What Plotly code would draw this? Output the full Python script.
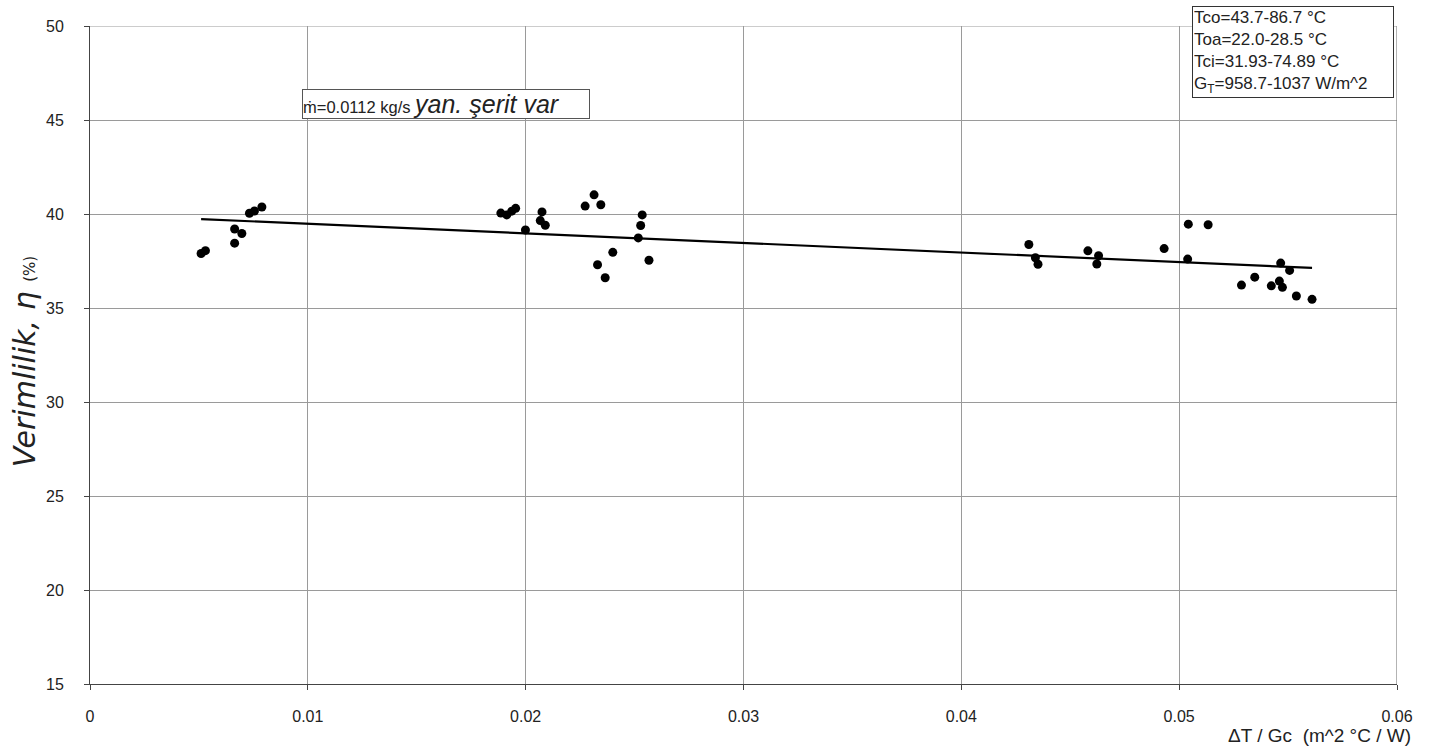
import plotly.graph_objects as go

# Measured points: ΔT/Gc (m^2 °C / W) vs efficiency (%)
x_vals = [0.0051, 0.0053, 0.00664, 0.00664, 0.00697, 0.00732, 0.00755, 0.00789,
          0.01886, 0.01913, 0.01936, 0.01954, 0.01999, 0.02075, 0.02067, 0.0209,
          0.02273, 0.02314, 0.02345, 0.0240, 0.0233, 0.02365,
          0.02535, 0.02528, 0.02517, 0.02566,
          0.0431, 0.0434, 0.04352, 0.04581, 0.0463, 0.04622, 0.04931,
          0.05042, 0.05133, 0.05039, 0.05286, 0.05347, 0.05423, 0.0546, 0.05474,
          0.05466, 0.05507, 0.05538, 0.0561]
y_vals = [37.9, 38.05, 38.45, 39.2, 38.96, 40.04, 40.16, 40.37,
          40.05, 39.95, 40.15, 40.3, 39.15, 40.11, 39.65, 39.4,
          40.42, 41.02, 40.49, 37.96, 37.3, 36.61,
          39.95, 39.39, 38.73, 37.54,
          38.38, 37.67, 37.33, 38.04, 37.78, 37.34, 38.16,
          39.46, 39.43, 37.6, 36.22, 36.64, 36.18, 36.43, 36.1,
          37.39, 37.0, 35.64, 35.46]

# Linear trend line end points
trend_x = [0.0051, 0.0561]
trend_y = [39.73, 37.13]

x_ticks = [0, 0.01, 0.02, 0.03, 0.04, 0.05, 0.06]
x_tick_labels = ["0", "0.01", "0.02", "0.03", "0.04", "0.05", "0.06"]
y_ticks = [15, 20, 25, 30, 35, 40, 45, 50]

info_lines = ["Tco=43.7-86.7 °C", "Toa=22.0-28.5 °C", "Tci=31.93-74.89 °C",
              "G<sub>T</sub>=958.7-1037 W/m^2"]

FONT = "Liberation Sans, Arial, sans-serif"

fig = go.Figure()
fig.add_trace(go.Scatter(x=trend_x, y=trend_y, mode="lines",
                         line=dict(color="black", width=2.2),
                         showlegend=False, hoverinfo="skip"))
fig.add_trace(go.Scatter(x=x_vals, y=y_vals, mode="markers",
                         marker=dict(color="black", size=9),
                         showlegend=False))

grid = "#9a9a9a"
fig.update_xaxes(range=[0, 0.06], tickvals=x_ticks, ticktext=x_tick_labels,
                 showgrid=True, gridcolor=grid, gridwidth=1,
                 showline=True, linecolor="#444", linewidth=1,
                 ticks="outside", ticklen=5, tickcolor="#444",
                 ticklabelstandoff=13, zeroline=False,
                 tickfont=dict(family=FONT, size=16, color="#222"))
fig.update_yaxes(range=[15, 50], tickvals=y_ticks,
                 showgrid=True, gridcolor=grid, gridwidth=1,
                 showline=True, linecolor="#444", linewidth=1,
                 ticks="outside", ticklen=5, tickcolor="#444",
                 ticklabelstandoff=17, zeroline=False,
                 tickfont=dict(family=FONT, size=16, color="#222"))

# right / top borders
fig.add_shape(type="line", xref="x", yref="paper", x0=0.06, x1=0.06, y0=0, y1=1,
              line=dict(color="#666", width=1))
fig.add_shape(type="line", xref="paper", yref="y", x0=0, x1=1, y0=50, y1=50,
              line=dict(color=grid, width=1))

# info box top right
fig.add_annotation(xref="x", yref="paper", x=0.0506, y=1.03, xanchor="left", yanchor="top",
                   text="<br>".join(info_lines), align="left", showarrow=False,
                   width=198, bgcolor="white", bordercolor="#333", borderwidth=1,
                   borderpad=1, font=dict(family=FONT, size=17, color="#222"))

# flow rate box
fig.add_annotation(xref="x", yref="y", x=0.00975, y=45.85, xanchor="left", yanchor="middle",
                   text="ṁ=0.0112 kg/s <span style='font-size:25px;font-style:italic'>yan. şerit var</span>",
                   align="left", showarrow=False, width=286,
                   bgcolor="white", bordercolor="#555", borderwidth=1, borderpad=0,
                   font=dict(family=FONT, size=16.5, color="#222"))

# axis titles
fig.add_annotation(xref="paper", yref="paper", x=1.012, y=-0.078, xanchor="right",
                   yanchor="middle", text="ΔT / Gc  (m^2 °C / W)", showarrow=False,
                   font=dict(family=FONT, size=19, color="#222"))
fig.add_annotation(xref="paper", yref="paper", x=-0.05, y=0.49, xanchor="center",
                   yanchor="middle", textangle=-90, showarrow=False,
                   text="<i>Verimlilik, η</i> <span style='font-size:15px'>(%)</span>",
                   font=dict(family="DejaVu Sans, sans-serif", size=30, color="#222"))

fig.update_layout(width=1445, height=755, plot_bgcolor="white", paper_bgcolor="white",
                  margin=dict(l=90, r=48, t=26, b=71), showlegend=False)

fig.write_html("out.html")
